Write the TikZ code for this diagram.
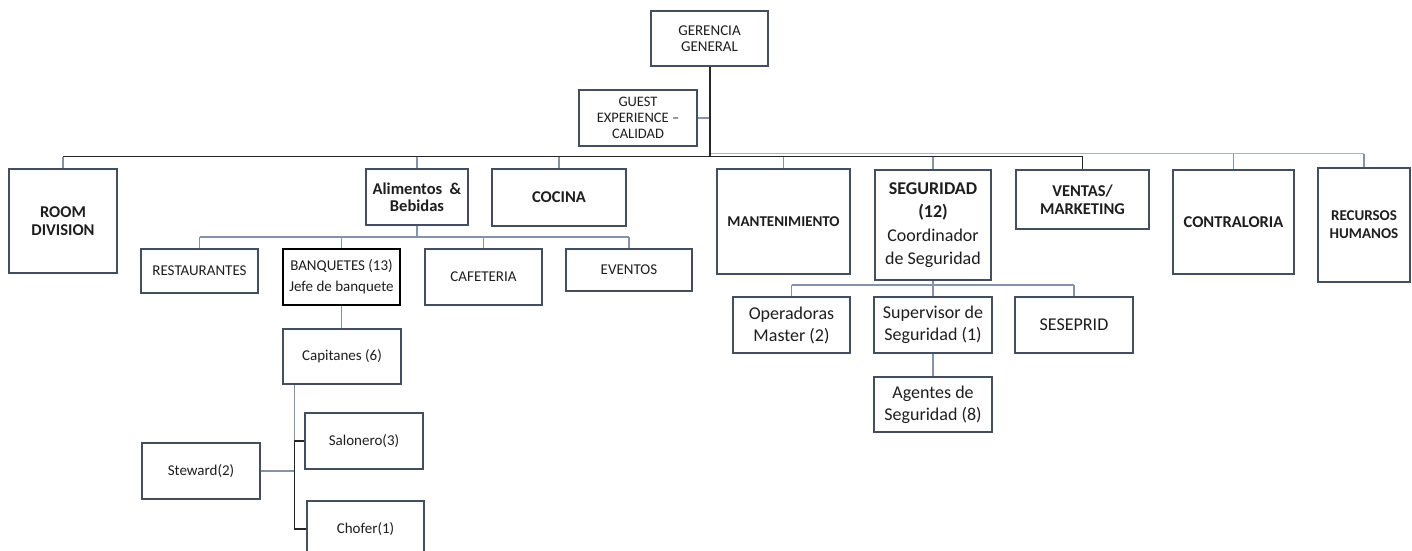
\documentclass[tikz,border=0pt]{standalone}
\usepackage{fontspec}
\setmainfont{Carlito}
\definecolor{boxc}{HTML}{434E5E}
\definecolor{lnkc}{HTML}{8493A8}
\definecolor{darkc}{HTML}{262626}
\definecolor{palec}{HTML}{AAB3C0}
\definecolor{txtc}{HTML}{1E1E1E}
\newcommand\fsm{\fontsize{15}{17.5}\selectfont}
\newcommand\fmid{\fontsize{18}{22}\selectfont}
\newcommand\fhead{\fontsize{16.5}{18}\selectfont\bfseries}
\newcommand\fhsm{\fontsize{15}{18}\selectfont\bfseries}
\begin{document}
\begin{tikzpicture}[x=1pt,y=-1pt,
  box/.style={draw=boxc, line width=1.1pt, fill=white, align=center, inner sep=2pt, text=txtc, font=\fsm},
  wh/.style 2 args={minimum width=#1pt, minimum height=#2pt},
  lnk/.style={draw=lnkc, line width=1.2pt},
  blk/.style={draw=darkc, line width=1.2pt},
  pale/.style={draw=palec, line width=1.2pt},
  trunk/.style={draw=darkc, line width=2pt}]
\useasboundingbox (0,0) rectangle (1412,550);

% top management
\node[box, wh={117}{55}, font=\fontsize{15}{15.5}\selectfont] (ger) at (709.5,38.5) {GERENCIA\\GENERAL};
\node[box, wh={118}{56}, font=\fontsize{14.5}{16}\selectfont] (guest) at (638,118) {GUEST\\EXPERIENCE –\\CALIDAD};

% departments
\node[box, wh={108}{104}, font=\fhead] (room) at (63,221) {ROOM\\DIVISION};
\node[box, wh={102}{56}, font=\fontsize{16.5}{17}\selectfont\bfseries] (alim) at (417,197) {Alimentos \ \&\\Bebidas};
\node[box, wh={134}{57}, font=\fhead] (coc) at (559,197.5) {COCINA};
\node[box, wh={133}{105}, font=\fhsm] (mant) at (783.5,221.5) {MANTENIMIENTO};
\node[box, wh={116}{110}, font=\fontsize{18}{23.5}\selectfont] (seg) at (933,225) {{\bfseries SEGURIDAD}\\{\bfseries (12)}\\Coordinador\\de Seguridad};
\node[box, wh={133}{59}, font=\fhead] (vent) at (1082.5,199.5) {VENTAS/\\MARKETING};
\node[box, wh={121}{104}, font=\fhead] (contra) at (1233.5,222) {CONTRALORIA};
\node[box, wh={92}{114}, font=\fhsm] (rrhh) at (1364,225) {RECURSOS\\HUMANOS};

% food and beverage
\node[box, wh={117}{44}] (rest) at (199.5,271) {RESTAURANTES};
\node[box, wh={117}{56}, draw=black, line width=2pt, font=\fontsize{15}{21}\selectfont] (banq) at (341.5,277) {BANQUETES (13)\\Jefe de banquete};
\node[box, wh={117}{56}] (cafe) at (483.5,277) {CAFETERIA};
\node[box, wh={126}{42}] (event) at (629,270) {EVENTOS};

% banquet staff
\node[box, wh={118}{55}] (capi) at (342,356.5) {Capitanes (6)};
\node[box, wh={118}{56}] (salon) at (364,441) {Salonero(3)};
\node[box, wh={118}{56}] (stew) at (201,471) {Steward(2)};
\node[box, wh={117}{56}] (chof) at (365.5,529) {Chofer(1)};

% security staff
\node[box, wh={117}{56}, font=\fmid] (oper) at (791.5,325) {Operadoras\\Master (2)};
\node[box, wh={118}{56}, font=\fmid] (sup) at (933,325) {Supervisor de\\Seguridad (1)};
\node[box, wh={118}{56}, font=\fmid] (sese) at (1074,325) {SESEPRID};
\node[box, wh={118}{55}, font=\fmid] (agen) at (933,404.5) {Agentes de\\Seguridad (8)};

% bus levels
\coordinate (bus) at (0,156.5);
\coordinate (bus2) at (0,153.5);
\coordinate (ab) at (0,237);
\coordinate (sb) at (0,285);
\coordinate (tk) at (294.3,0);

% top trunk and staff link
\draw[lnk] (guest.east) -- (guest.east -| ger.south);
\draw[pale] (ger.south |- bus2) -- (rrhh.north |- bus2);
\draw[blk] (room.north |- bus) -- (vent.north |- bus);
\draw[trunk] (ger.south) -- (ger.south |- bus);

% department drops
\draw[lnk] (room.north |- bus) -- (room.north);
\draw[lnk] (alim.north |- bus) -- (alim.north);
\draw[lnk] (coc.north |- bus) -- (coc.north);
\draw[lnk] (mant.north |- bus) -- (mant.north);
\draw[lnk] (seg.north |- bus) -- (seg.north);
\draw[blk] (vent.north |- bus) -- (vent.north);
\draw[lnk] (contra.north |- bus2) -- (contra.north);
\draw[lnk] (rrhh.north |- bus2) -- (rrhh.north);

% food and beverage branch
\draw[lnk] (alim.south) -- (alim.south |- ab);
\draw[lnk] (rest.north |- ab) -- (event.north |- ab);
\draw[lnk] (rest.north |- ab) -- (rest.north);
\draw[lnk] (banq.north |- ab) -- (banq.north);
\draw[lnk] (cafe.north |- ab) -- (cafe.north);
\draw[lnk] (event.north |- ab) -- (event.north);
\draw[lnk] (banq.south) -- (banq.south |- capi.north);

% banquet staff branch
\draw[lnk] (capi.south -| tk) -- (stew.east -| tk);
\draw[lnk] (stew.east) -- (stew.east -| tk);
\draw[blk] (salon.west) -- (salon.west -| tk) -- (chof.west -| tk) -- (chof.west);

% security branch
\draw[lnk] (seg.south) -- (seg.south |- sb);
\draw[lnk] (oper.north |- sb) -- (sese.north |- sb);
\draw[lnk] (oper.north |- sb) -- (oper.north);
\draw[lnk] (sup.north |- sb) -- (sup.north);
\draw[lnk] (sese.north |- sb) -- (sese.north);
\draw[lnk] (sup.south) -- (agen.north);
\end{tikzpicture}
\end{document}
